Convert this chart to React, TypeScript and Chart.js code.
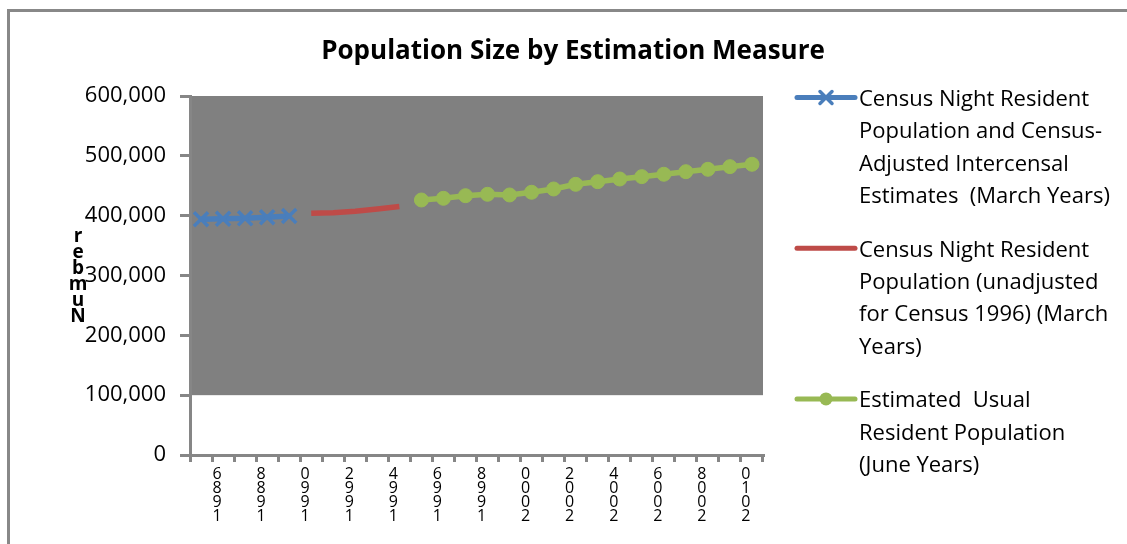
import React, { useEffect, useRef } from 'react';
import { Chart, registerables } from 'chart.js';

Chart.register(...registerables);

const chartTitle = 'Population Size by Estimation Measure';
const yAxisTitle = 'Number';

const categories = [
  '1986', '1987', '1988', '1989', '1990', '1991', '1992', '1993', '1994', '1995', '1996', '1997', '1998',
  '1999', '2000', '2001', '2002', '2003', '2004', '2005', '2006', '2007', '2008', '2009', '2010', '2011',
];

const censusAdjustedMarch = [
  394000, 394800, 395600, 397300, 399500, null, null, null, null, null, null, null, null,
  null, null, null, null, null, null, null, null, null, null, null, null, null,
];

const censusUnadjustedMarch = [
  null, null, null, null, null, 404000, 405000, 407300, 411200, 415300, null, null, null,
  null, null, null, null, null, null, null, null, null, null, null, null, null,
];

const usualResidentJune = [
  null, null, null, null, null, null, null, null, null, null, 426200, 429000, 433400,
  435700, 434600, 439100, 444600, 452400, 456800, 461300, 465200, 469200, 473500, 477500, 481900, 485900,
];

const seriesNames = [
  ['Census Night Resident', 'Population and Census-', 'Adjusted Intercensal', 'Estimates  (March Years)'],
  ['Census Night Resident', 'Population (unadjusted', 'for Census 1996) (March', 'Years)'],
  ['Estimated  Usual', 'Resident Population', '(June Years)'],
];

const yMin = 0;
const yMax = 600000;
const yStep = 100000;
const shadeFloor = 100000;

const BLUE = '#4A7EBB';
const RED = '#BE4B48';
const GREEN = '#98B954';
const PLOT_GRAY = '#808080';
const AXIS_GRAY = '#868686';
const FONT = '"Open Sans", "DejaVu Sans", sans-serif';

const decorPlugin = {
  id: 'decor',
  beforeDraw(chart: any) {
    const { ctx, chartArea, scales } = chart;
    const bottom = scales.y.getPixelForValue(shadeFloor);
    ctx.save();
    ctx.fillStyle = PLOT_GRAY;
    ctx.fillRect(chartArea.left, chartArea.top, chartArea.right - chartArea.left, bottom - chartArea.top);
    ctx.restore();
  },
  afterDraw(chart: any) {
    const { ctx } = chart;
    ctx.save();
    // Title
    ctx.fillStyle = '#000';
    ctx.font = `bold 26px ${FONT}`;
    ctx.textAlign = 'center';
    ctx.textBaseline = 'alphabetic';
    ctx.fillText(chartTitle, 563, 47);

    // Stacked y-axis title (letters read bottom to top)
    ctx.font = `bold 19px ${FONT}`;
    const letters = yAxisTitle.split('').reverse();
    letters.forEach((ch, i) => {
      ctx.fillText(ch, 68, 230 + i * 16);
    });

    // Legend
    const textX = 849;
    const lineX0 = 787;
    const lineX1 = 845;
    const lineGap = 32.3;
    let base = 94;
    chart.data.datasets.forEach((ds: any, i: number) => {
      const ly = base - 8.5;
      ctx.strokeStyle = ds.borderColor;
      ctx.lineWidth = 5;
      ctx.lineCap = 'round';
      ctx.beginPath();
      ctx.moveTo(lineX0, ly);
      ctx.lineTo(lineX1, ly);
      ctx.stroke();
      const cx = (lineX0 + lineX1) / 2;
      if (ds.pointStyle === 'crossRot') {
        ctx.lineWidth = 3.5;
        const r = 6;
        ctx.beginPath();
        ctx.moveTo(cx - r, ly - r);
        ctx.lineTo(cx + r, ly + r);
        ctx.moveTo(cx - r, ly + r);
        ctx.lineTo(cx + r, ly - r);
        ctx.stroke();
      } else if (ds.pointStyle === 'circle' && ds.pointRadius > 0) {
        ctx.fillStyle = ds.borderColor;
        ctx.beginPath();
        ctx.arc(cx, ly, 6.5, 0, Math.PI * 2);
        ctx.fill();
      }
      ctx.fillStyle = '#000';
      ctx.font = `22px ${FONT}`;
      ctx.textAlign = 'left';
      const lines = seriesNames[i];
      lines.forEach((t, k) => ctx.fillText(t, textX, base + k * lineGap));
      base += lines.length * lineGap + 21.5;
    });
    ctx.restore();
  },
};

export default function App() {
  const ref = useRef<HTMLCanvasElement | null>(null);

  useEffect(() => {
    if (!ref.current) return;
    const chart = new Chart(ref.current, {
      type: 'line',
      data: {
        labels: categories,
        datasets: [
          {
            label: seriesNames[0].join(' '),
            data: censusAdjustedMarch,
            borderColor: BLUE,
            backgroundColor: BLUE,
            borderWidth: 5.5,
            pointStyle: 'crossRot',
            pointRadius: 10,
            pointBorderWidth: 3.5,
            pointBorderColor: BLUE,
            spanGaps: false,
            tension: 0,
          },
          {
            label: seriesNames[1].join(' '),
            data: censusUnadjustedMarch,
            borderColor: RED,
            backgroundColor: RED,
            borderWidth: 5.5,
            pointStyle: 'circle',
            pointRadius: 0,
            spanGaps: false,
            tension: 0,
          },
          {
            label: seriesNames[2].join(' '),
            data: usualResidentJune,
            borderColor: GREEN,
            backgroundColor: GREEN,
            borderWidth: 5.5,
            pointStyle: 'circle',
            pointRadius: 7,
            pointBorderWidth: 1,
            pointBorderColor: GREEN,
            pointBackgroundColor: GREEN,
            spanGaps: false,
            tension: 0,
          },
        ],
      },
      options: {
        animation: false,
        responsive: false,
        devicePixelRatio: 1,
        layout: { padding: { top: 84, right: 364, left: 0, bottom: 0 } },
        plugins: {
          legend: { display: false },
          title: { display: false },
          tooltip: { enabled: false },
        },
        scales: {
          x: {
            type: 'category',
            offset: true,
            grid: { offset: true, drawOnChartArea: false, color: AXIS_GRAY, lineWidth: 3, tickLength: 7 },
            border: { color: AXIS_GRAY, width: 3 },
            ticks: {
              autoSkip: false,
              maxRotation: 0,
              minRotation: 0,
              labelOffset: 16,
              padding: 5,
              color: '#000',
              font: { family: FONT, size: 16, lineHeight: 0.88 },
              callback: (_v: any, i: number) => (i % 2 === 0 ? categories[i].split('').reverse() : ''),
            },
            afterFit: (scale: any) => {
              scale.height = 89;
            },
          },
          y: {
            min: yMin,
            max: yMax,
            grid: { drawOnChartArea: false, color: AXIS_GRAY, lineWidth: 3, tickLength: 10 },
            border: { color: AXIS_GRAY, width: 3 },
            ticks: {
              stepSize: yStep,
              padding: 14,
              color: '#000',
              font: { family: FONT, size: 22 },
              callback: (v: any) => Number(v).toLocaleString('en-US'),
            },
            afterFit: (scale: any) => {
              scale.width = 180;
            },
          },
        },
      },
      plugins: [decorPlugin],
    } as any);
    return () => chart.destroy();
  }, []);

  return (
    <div
      style={{
        position: 'fixed',
        left: 7,
        top: 9,
        borderLeft: '3px solid #888888',
        borderTop: '3px solid #888888',
        background: '#fff',
      }}
    >
      <canvas ref={ref} width={1117} height={532} style={{ display: 'block', width: 1117, height: 532 }} />
    </div>
  );
}
